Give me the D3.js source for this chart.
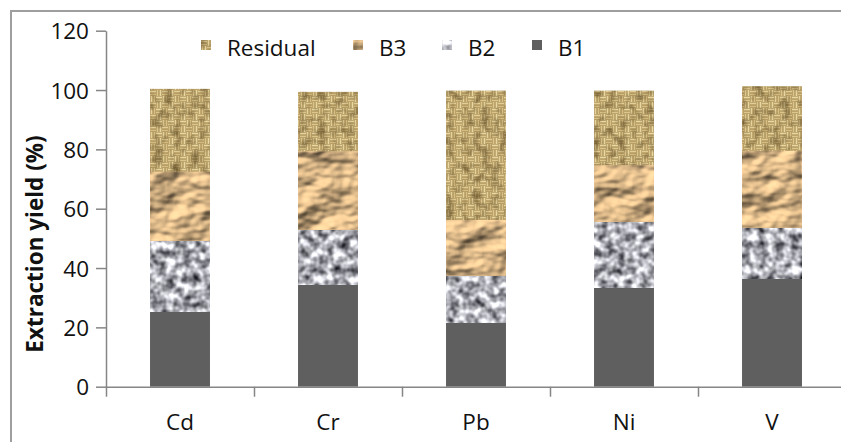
<!DOCTYPE html>
<html>
<head>
<meta charset="utf-8">
<script src="https://cdn.jsdelivr.net/npm/d3@7"></script>
<style>
  body { margin: 0; background: #fff; }
  svg { display: block; font-family: "Open Sans", sans-serif; }
</style>
</head>
<body>
<svg width="841" height="442">
  <defs>
    <!-- burlap weave for Residual -->
    <pattern id="weave" patternUnits="userSpaceOnUse" width="12" height="12">
      <rect width="12" height="12" fill="#9a7f44"/>
      <rect x="0" y="0.5" width="6" height="2" fill="#ead8a4"/>
      <rect x="0" y="3.5" width="6" height="2" fill="#dcc68e"/>
      <rect x="6.5" y="0" width="2" height="6" fill="#e6d29c"/>
      <rect x="9.5" y="0" width="2" height="6" fill="#d8c088"/>
      <rect x="0.5" y="6" width="2" height="6" fill="#dcc690"/>
      <rect x="3.5" y="6" width="2" height="6" fill="#ead8a4"/>
      <rect x="6" y="6.5" width="6" height="2" fill="#e4ce98"/>
      <rect x="6" y="9.5" width="6" height="2" fill="#d4bc84"/>
    </pattern>
    <filter id="burlap" x="0" y="0" width="1" height="1" color-interpolation-filters="sRGB">
      <feTurbulence type="fractalNoise" baseFrequency="0.11" numOctaves="2" seed="4" result="n"/>
      <feColorMatrix in="n" type="matrix" values="0 0 0 0 0.3  0 0 0 0 0.22  0 0 0 0 0.08  1.4 0 0 0 -0.62" result="shade"/>
      <feComposite in="shade" in2="SourceGraphic" operator="atop"/>
    </filter>
    <!-- crumpled paper for B3 -->
    <filter id="crumple" x="0" y="0" width="1" height="1" color-interpolation-filters="sRGB">
      <feTurbulence type="fractalNoise" baseFrequency="0.03 0.045" numOctaves="3" seed="11" result="n"/>
      <feDiffuseLighting in="n" surfaceScale="6" diffuseConstant="1.12" lighting-color="#f4cd98">
        <feDistantLight azimuth="235" elevation="52"/>
      </feDiffuseLighting>
    </filter>
    <!-- granite for B2 -->
    <filter id="granite" x="0" y="0" width="1" height="1" color-interpolation-filters="sRGB">
      <feTurbulence type="fractalNoise" baseFrequency="0.12" numOctaves="2" seed="5" result="n"/>
      <feColorMatrix in="n" type="matrix" values="1.5 0 0 0 -0.08  1.5 0 0 0 -0.08  1.5 0 0 0 -0.05  0 0 0 0 1" result="g"/>
      <feGaussianBlur in="g" stdDeviation="0.7" edgeMode="duplicate"/>
    </filter>
  </defs>
</svg>
<script>
// data
var categories = ["Cd", "Cr", "Pb", "Ni", "V"];
var b1 = [25.3, 34.3, 21.6, 33.5, 36.4];
var b2 = [23.9, 18.7, 16.0, 22.3, 17.3];
var b3 = [23.3, 26.4, 18.6, 18.9, 25.8];
var residual = [27.9, 20.0, 43.6, 25.1, 21.8];
var seriesKeys = ["B1", "B2", "B3", "Residual"];
var legendOrder = ["Residual", "B3", "B2", "B1"];
var yTicks = [0, 20, 40, 60, 80, 100, 120];

var fills = {
    B1: {fill: "#5f5f5f", filter: null},
    B2: {fill: "#aaa", filter: "url(#granite)"},
    B3: {fill: "#c9a36e", filter: "url(#crumple)"},
    Residual: {fill: "url(#weave)", filter: "url(#burlap)"}
};

var rows = categories.map(function (c, i) {
    return {cat: c, B1: b1[i], B2: b2[i], B3: b3[i], Residual: residual[i]};
});

var svg = d3.select("svg");
var axisColor = "#868686";

// outer frame (only top and left visible)
svg.append("rect")
    .attr("x", 11).attr("y", 11)
    .attr("width", 1000).attr("height", 1000)
    .attr("fill", "none")
    .attr("stroke", "#9e9e9e")
    .attr("stroke-width", 2);

var y = d3.scaleLinear().domain([0, 120]).range([386.7, 30.7]);
var x = d3.scaleBand().domain(categories).range([106, 846])
    .paddingInner(0.595).paddingOuter(0.2975);
var xEdge = d3.scaleLinear().domain([0, categories.length]).range([106, 846]);

var stack = d3.stack().keys(seriesKeys)(rows);

var layers = svg.append("g").selectAll("g")
    .data(stack)
    .enter().append("g");

layers.selectAll("rect")
    .data(function (d) { return d.map(function (p) { p.key = d.key; return p; }); })
    .enter().append("rect")
    .attr("x", function (d) { return x(d.data.cat); })
    .attr("width", x.bandwidth())
    .attr("y", function (d) { return y(d[1]); })
    .attr("height", function (d) { return y(d[0]) - y(d[1]); })
    .attr("fill", function (d) { return fills[d.key].fill; })
    .attr("filter", function (d) { return fills[d.key].filter; });

// y axis
var yAxis = svg.append("g")
    .attr("transform", "translate(106,0)")
    .call(d3.axisLeft(y).tickValues(yTicks).tickSize(10).tickPadding(7).tickSizeOuter(0));
yAxis.select(".domain").attr("stroke", axisColor).attr("stroke-width", 1.5);
yAxis.selectAll(".tick line").attr("stroke", axisColor).attr("stroke-width", 1.5);
yAxis.selectAll("text")
    .attr("font-family", "Open Sans")
    .attr("font-size", 22.5)
    .attr("fill", "#111")
    .attr("dy", "0.36em");

// x axis (ticks between categories)
var xAxis = svg.append("g")
    .attr("transform", "translate(0,386.7)")
    .call(d3.axisBottom(xEdge).tickValues(d3.range(categories.length + 1))
        .tickSize(10).tickFormat("").tickSizeOuter(0));
xAxis.select(".domain").attr("stroke", axisColor).attr("stroke-width", 1.5);
xAxis.selectAll(".tick line").attr("stroke", axisColor).attr("stroke-width", 1.5);

svg.append("g").selectAll("text")
    .data(categories)
    .enter().append("text")
    .attr("x", function (d) { return x(d) + x.bandwidth() / 2; })
    .attr("y", 430)
    .attr("text-anchor", "middle")
    .attr("font-size", 22.5)
    .attr("fill", "#111")
    .text(function (d) { return d; });

// y title
svg.append("text")
    .attr("transform", "translate(43,244) rotate(-90)")
    .attr("text-anchor", "middle")
    .attr("font-size", 22.5)
    .attr("font-weight", "bold")
    .attr("fill", "#111")
    .text("Extraction yield (%)");

// legend
var legendX = {Residual: 201, B3: 353, B2: 442, B1: 532};
var legend = svg.append("g").selectAll("g")
    .data(legendOrder)
    .enter().append("g")
    .attr("transform", function (d) { return "translate(" + legendX[d] + ",40)"; });
legend.append("rect")
    .attr("width", 10).attr("height", 10)
    .attr("fill", function (d) { return fills[d].fill; })
    .attr("filter", function (d) { return fills[d].filter; });
legend.append("text")
    .attr("x", 26)
    .attr("y", 16)
    .attr("font-size", 21)
    .attr("fill", "#111")
    .text(function (d) { return d; })
    .each(function () {
        var w = this.getComputedTextLength();
        d3.select(this).attr("textLength", w * 1.07).attr("lengthAdjust", "spacingAndGlyphs");
    });
</script>
</body>
</html>
